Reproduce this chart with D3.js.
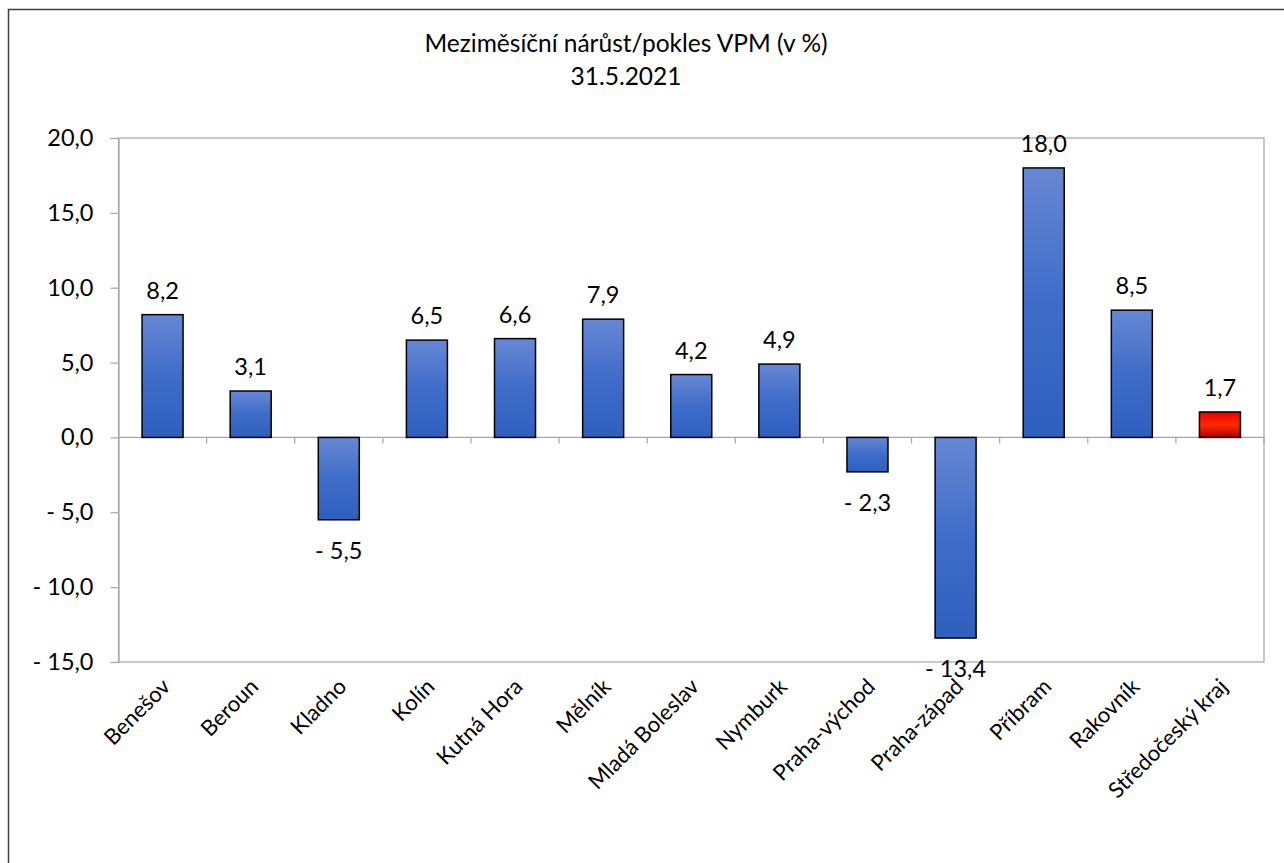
<!DOCTYPE html>
<html>
<head>
<meta charset="utf-8">
<script src="https://cdn.jsdelivr.net/npm/d3@7"></script>
<style>
body { margin: 0; background: #fff; }
svg text { font-family: Lato, "Open Sans", sans-serif; fill: #000; }
</style>
</head>
<body>
<div id="chart"></div>
<script>
var districts = ["Benešov","Beroun","Kladno","Kolín","Kutná Hora","Mělník","Mladá Boleslav","Nymburk","Praha-východ","Praha-západ","Příbram","Rakovník","Středočeský kraj"]
var changes = [8.2,3.1,-5.5,6.5,6.6,7.9,4.2,4.9,-2.3,-13.4,18.0,8.5,1.7]
var yTicks = [20,15,10,5,0,-5,-10,-15]
var titleLines = ["Meziměsíční nárůst/pokles VPM (v %)","31.5.2021"]

var data = districts.map(function(d,i){ return {name:d, value:changes[i]} })

var width = 1284, height = 863
var plotLeft = 118.5, plotRight = 1264, plotTop = 138, plotBottom = 662

var svg = d3.select("#chart")
.append("svg")
.attr("width",width)
.attr("height",height)

var defs = svg.append("defs")
var blue = defs.append("linearGradient").attr("id","blueGrad").attr("x1",0).attr("y1",0).attr("x2",0).attr("y2",1)
blue.append("stop").attr("offset","0%").attr("stop-color","#6787d4")
blue.append("stop").attr("offset","50%").attr("stop-color","#3f6cc8")
blue.append("stop").attr("offset","100%").attr("stop-color","#2f5fbe")
var red = defs.append("linearGradient").attr("id","redGrad").attr("x1",0).attr("y1",0).attr("x2",0).attr("y2",1)
red.append("stop").attr("offset","0%").attr("stop-color","#e80000")
red.append("stop").attr("offset","50%").attr("stop-color","#ff2a00")
red.append("stop").attr("offset","100%").attr("stop-color","#b00000")

// outer frame
svg.append("path")
.attr("d","M8.5," + (height+5) + "V9.5H" + (width+5))
.attr("fill","none")
.attr("stroke","#404040")
.attr("stroke-width",1.5)

// title
svg.selectAll(".title")
.data(titleLines)
.enter()
.append("text")
.attr("x",626)
.attr("y",function(d,i){return 52 + i*33})
.attr("text-anchor","middle")
.style("font-size","24.5px")
.text(function(d){return d})

var xScale = d3.scaleBand()
.domain(districts)
.range([plotLeft,plotRight])

var yScale = d3.scaleLinear()
.domain([-15,20])
.range([plotBottom,plotTop])

// plot frame
svg.append("rect")
.attr("x",plotLeft)
.attr("y",plotTop)
.attr("width",plotRight-plotLeft)
.attr("height",plotBottom-plotTop)
.attr("fill","none")
.attr("stroke","#a6a6a6")
.attr("stroke-width",1.2)

var fmt = function(v){
  var s = d3.format(".1f")(Math.abs(v)).replace(".",",")
  return v < 0 ? "- " + s : s
}

var yAxis = d3.axisLeft(yScale).tickValues(yTicks).tickSize(8).tickPadding(17).tickFormat(fmt)
var gy = svg.append("g").attr("transform","translate(" + plotLeft + ",0)").call(yAxis)
gy.select(".domain").attr("stroke","#a6a6a6").attr("stroke-width",1.2)
gy.selectAll(".tick line").attr("stroke","#a6a6a6").attr("stroke-width",1.2)
gy.selectAll(".tick text").style("font-size","23.5px").attr("fill","#000").attr("font-family",null)

// zero line and category ticks
var y0 = yScale(0)
svg.append("line")
.attr("x1",plotLeft).attr("x2",plotRight)
.attr("y1",y0).attr("y2",y0)
.attr("stroke","#a6a6a6").attr("stroke-width",1.2)

svg.selectAll(".ctick")
.data(districts)
.enter()
.append("line")
.attr("x1",function(d){return xScale(d) + xScale.step()})
.attr("x2",function(d){return xScale(d) + xScale.step()})
.attr("y1",y0).attr("y2",y0+6)
.attr("stroke","#a6a6a6").attr("stroke-width",1.2)

var barW = 41
svg.selectAll(".bar")
.data(data)
.enter()
.append("rect")
.attr("x",function(d){return xScale(d.name) + xScale.bandwidth()/2 - barW/2})
.attr("y",function(d){return yScale(Math.max(0,d.value))})
.attr("width",barW)
.attr("height",function(d){return Math.abs(yScale(d.value) - y0)})
.attr("fill",function(d,i){return i == data.length-1 ? "url(#redGrad)" : "url(#blueGrad)"})
.attr("stroke","#000")
.attr("stroke-width",1.5)

svg.selectAll(".vlabel")
.data(data)
.enter()
.append("text")
.attr("x",function(d){return xScale(d.name) + xScale.bandwidth()/2})
.attr("y",function(d){return d.value >= 0 ? yScale(d.value) - 16 : yScale(d.value) + 39})
.attr("text-anchor","middle")
.style("font-size","23.5px")
.text(function(d){return fmt(d.value)})

svg.selectAll(".xlabel")
.data(districts)
.enter()
.append("text")
.attr("transform",function(d){
  var x = xScale(d) + xScale.bandwidth()/2 + 9
  return "translate(" + x + "," + 688 + ") rotate(-45)"
})
.attr("text-anchor","end")
.style("font-size","22px")
.text(function(d){return d})
</script>
</body>
</html>
